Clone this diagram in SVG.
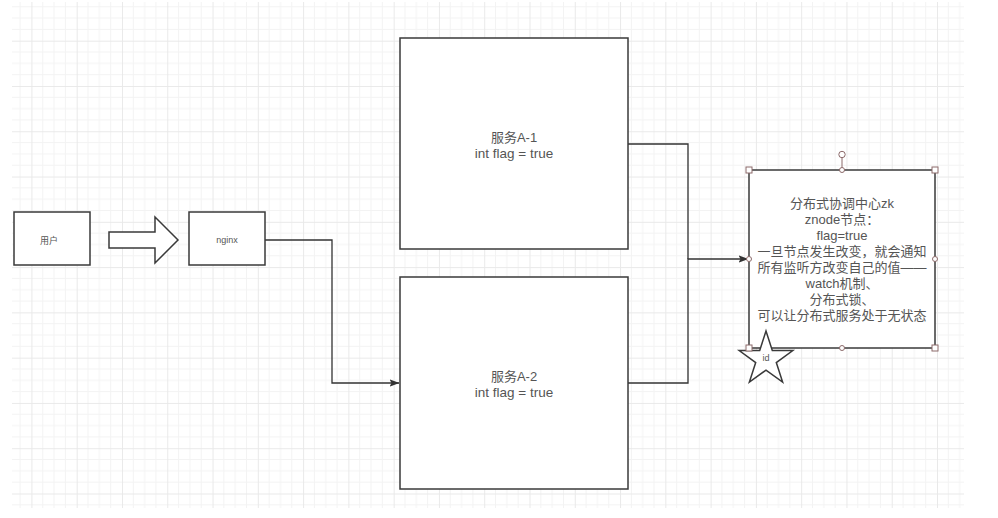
<svg xmlns="http://www.w3.org/2000/svg" width="998" height="518" viewBox="0 0 998 518">
<style>
.box{fill:#ffffff;stroke:#3a3a3a;stroke-width:1.5}
.conn{fill:none;stroke:#333333;stroke-width:1.3}
.lbl{font-family:"Liberation Sans","Noto Sans CJK SC",sans-serif;fill:#555555;text-anchor:middle}
.t13{font-size:13px}
.t9{font-size:9px}
.hsq{fill:#ffffff;stroke:#8c6a6a;stroke-width:1}
.hci{fill:#ffffff;stroke:#8c6a6a;stroke-width:1}
</style>
<defs>
<pattern id="grid" patternUnits="userSpaceOnUse" x="76.7" y="40.7" width="45.28" height="45.28">
<path d="M11.32 0V45.28M22.64 0V45.28M33.96 0V45.28M0 11.32H45.28M0 22.64H45.28M0 33.96H45.28" stroke="#f3f3f3" stroke-width="1" fill="none"/>
<path d="M0.5 0V45.28M0 0.5H45.28" stroke="#e9e9e9" stroke-width="1" fill="none"/>
</pattern>
<marker id="arrow" viewBox="0 0 10 10" refX="9.5" refY="5" markerWidth="10" markerHeight="10" markerUnits="userSpaceOnUse" orient="auto">
<path d="M0 1.2L10 5L0 8.8L2 5Z" fill="#333333"/>
</marker>
</defs>
<rect x="0" y="0" width="998" height="518" fill="#ffffff"/>
<rect x="12" y="2" width="952" height="506" fill="url(#grid)"/>

<g id="connectors">
<path class="conn" d="M265 240H332V383H399" marker-end="url(#arrow)"/>
<path class="conn" d="M628 144H688V259"/>
<path class="conn" d="M628 383H688V259H748" marker-end="url(#arrow)"/>
</g>

<g id="user">
<rect class="box" x="14" y="212" width="76" height="53"/>
<text class="lbl t9" x="49" y="243.5">用户</text>
</g>

<g id="block-arrow">
<polygon class="box" points="109,232 155,232 155,217 178,240 155,263 155,248 109,248"/>
</g>

<g id="nginx">
<rect class="box" x="189" y="212" width="76" height="53"/>
<text class="lbl t9" x="227" y="243">nginx</text>
</g>

<g id="serviceA1">
<rect class="box" x="400" y="38" width="228" height="211"/>
<text class="lbl t13"><tspan x="514" y="141.5">服务A-1</tspan><tspan x="514" y="157.5" style="font-size:13.5px">int flag = true</tspan></text>
</g>

<g id="serviceA2">
<rect class="box" x="400" y="277" width="228" height="212"/>
<text class="lbl t13"><tspan x="514" y="380.5">服务A-2</tspan><tspan x="514" y="396.5" style="font-size:13.5px">int flag = true</tspan></text>
</g>

<g id="zk">
<rect class="box" x="749" y="170" width="186" height="178"/>
<text class="lbl t13"><tspan x="842" y="208">分布式协调中心zk</tspan><tspan x="842" y="224">znode节点：</tspan><tspan x="842" y="240">flag=true</tspan><tspan x="842" y="256">一旦节点发生改变，就会通知</tspan><tspan x="842" y="272">所有监听方改变自己的值——</tspan><tspan x="842" y="288">watch机制、</tspan><tspan x="842" y="304">分布式锁、</tspan><tspan x="842" y="320">可以让分布式服务处于无状态</tspan></text>
</g>

<g id="star">
<polygon class="box" points="766,331 772.3,350.5 792.8,350.5 776.3,362.6 782.6,382.1 766,370.1 749.4,382.1 755.7,362.6 739.2,350.5 759.7,350.5"/>
<text class="lbl" style="font-size:9px" x="766" y="361">id</text>
</g>

<g id="selection-handles">
<line x1="842" y1="157.5" x2="842" y2="168" stroke="#8c6a6a" stroke-width="1"/>
<circle class="hci" cx="842" cy="154.5" r="3.2"/>
<circle class="hci" cx="842" cy="170" r="2.5"/>
<circle class="hci" cx="842" cy="348" r="2.5"/>
<circle class="hci" cx="749" cy="259" r="2.5"/>
<circle class="hci" cx="935" cy="259" r="2.5"/>
<rect class="hsq" x="746" y="167" width="6" height="6"/>
<rect class="hsq" x="932" y="167" width="6" height="6"/>
<rect class="hsq" x="746" y="345" width="6" height="6"/>
<rect class="hsq" x="932" y="345" width="6" height="6"/>
</g>
</svg>
